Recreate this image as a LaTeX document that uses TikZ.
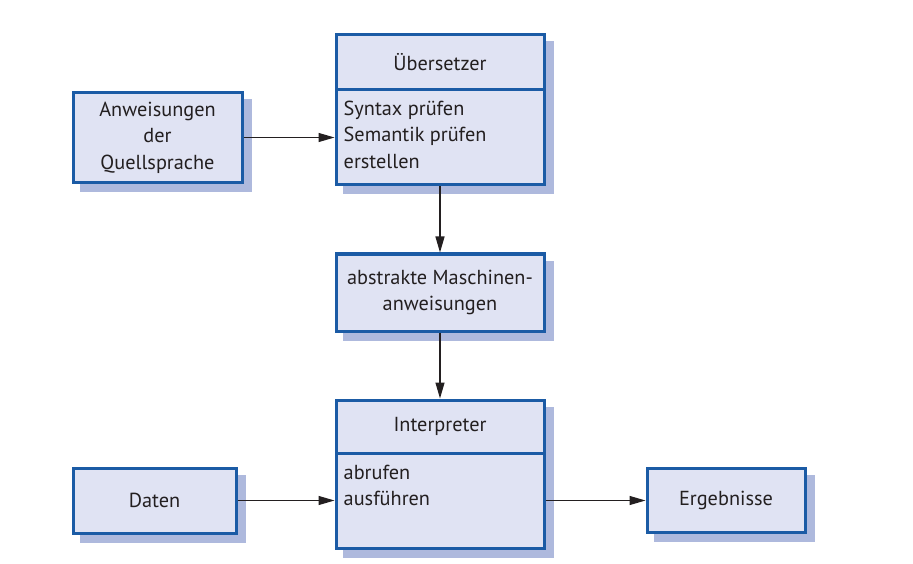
\documentclass[tikz,border=0pt]{standalone}
\usepackage{fontspec}
\setmainfont{PT Sans}
\usetikzlibrary{arrows.meta,backgrounds}
\definecolor{boxfill}{HTML}{E0E3F3}
\definecolor{boxline}{HTML}{1B5BA5}
\definecolor{boxshade}{HTML}{AEB9DD}
\definecolor{ink}{HTML}{231F20}
\tikzset{
  box/.style={draw=boxline, fill=boxfill, line width=3pt, text=ink, align=center,
    inner sep=2pt, font=\fontsize{20.3}{26.5}\selectfont},
  boxtext/.style={text=ink, align=left, inner sep=0pt, anchor=north west,
    font=\fontsize{20.3}{26.5}\selectfont},
  conn/.style={draw=ink, line width=1.2pt, -{Triangle[length=16pt,width=9pt]}}
}
\begin{document}
\begin{tikzpicture}[x=1pt,y=-1pt]
\useasboundingbox (0,0) rectangle (913,564);
% quelle und uebersetzer
\node[box, minimum width=169pt, minimum height=90pt] (quelle) at (157.5,137.5) {Anweisungen\\der\\Quellsprache};
\node[box, minimum width=208pt, minimum height=55pt] (ueb) at (440,62.5) {Übersetzer};
\node[box, minimum width=208pt, minimum height=95pt] (uebBody) at (440,137.5) {};
\node[boxtext] (uebText) at ([xshift=9pt,yshift=-12pt]uebBody.north west) {Syntax prüfen\\Semantik prüfen\\erstellen};
% zwischencode
\node[box, minimum width=208pt, minimum height=77pt] (abstr) at (440,292.5) {abstrakte Maschinen-\\anweisungen};
% interpreter
\node[box, minimum width=208pt, minimum height=53pt] (interp) at (440,426.5) {Interpreter};
\node[box, minimum width=208pt, minimum height=95pt] (interpBody) at (440,500.5) {};
\node[boxtext] (interpText) at ([xshift=9pt,yshift=-13pt]interpBody.north west) {abrufen\\ausführen};
\node[box, minimum width=163pt, minimum height=65pt] (daten) at (154.5,500.5) {Daten};
\node[box, minimum width=158pt, minimum height=64pt] (erg) at (726,500.5) {Ergebnisse};
% schatten
\begin{scope}[on background layer]
\foreach \a/\b in {quelle/quelle, ueb/uebBody, abstr/abstr, interp/interpBody, daten/daten, erg/erg}
  \fill[boxshade] ([shift={(8pt,-8pt)}]\b.south west) rectangle ([shift={(8pt,-8pt)}]\a.north east);
\end{scope}
% pfeile
\draw[conn] (quelle) -- (uebBody);
\draw[conn] (uebBody) -- (abstr);
\draw[conn] (abstr) -- (interp);
\draw[conn] (daten) -- (interpBody);
\draw[conn] (interpBody) -- (erg);
\end{tikzpicture}
\end{document}
